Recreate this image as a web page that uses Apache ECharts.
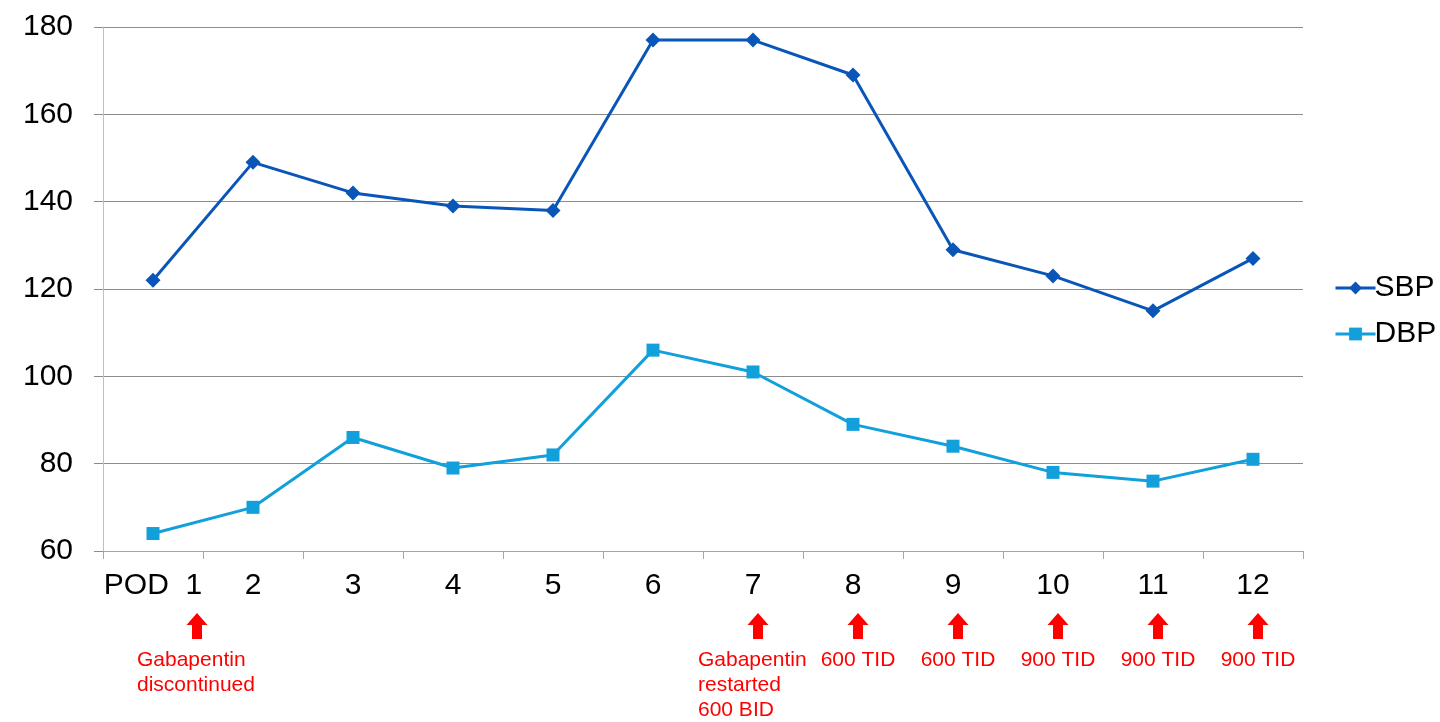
<!DOCTYPE html>
<html>
<head>
<meta charset="utf-8">
<script src="https://cdn.jsdelivr.net/npm/echarts@6/dist/echarts.min.js"></script>
<style>
html,body{margin:0;padding:0;background:#fff;}
#chart{width:1440px;height:722px;}
</style>
</head>
<body>
<div id="chart"></div>
<script>
const categories = ['POD\u00a0\u00a01', '2', '3', '4', '5', '6', '7', '8', '9', '10', '11', '12'];
const sbp = [122, 149, 142, 139, 138, 177, 177, 169, 129, 123, 115, 127];
const dbp = [64, 70, 86, 79, 82, 106, 101, 89, 84, 78, 76, 81];
const yMin = 60, yMax = 180, yStep = 20;
const annotationIndex = [0, 6, 7, 8, 9, 10, 11];
const annotationText = ['Gabapentin\ndiscontinued', 'Gabapentin\nrestarted\n600 BID', '600 TID', '600 TID', '900 TID', '900 TID', '900 TID'];

const FONT = '"Liberation Sans", Arial, sans-serif';
const chart = echarts.init(document.getElementById('chart'), null, {renderer: 'canvas'});
const option = {
  animation: false,
  backgroundColor: '#fff',
  textStyle: {fontFamily: FONT},
  grid: {left: 103, right: 137, top: 27, bottom: 171, containLabel: false},
  legend: {
    orient: 'vertical', left: 1329, top: 268,
    itemWidth: 40, itemHeight: 16, itemGap: 16,
    lineStyle: {width: 3},
    textStyle: {fontSize: 30, color: '#000', fontFamily: FONT, padding: [0, 0, 0, -6]},
    data: ['SBP', 'DBP']
  },
  xAxis: {
    type: 'category', data: categories, boundaryGap: true,
    axisLine: {lineStyle: {color: '#a6a6a6', width: 1}},
    axisTick: {show: true, length: 8, interval: 0, lineStyle: {color: '#a6a6a6'}},
    axisLabel: {fontSize: 30, color: '#000', margin: 20, interval: 0, fontFamily: FONT},
    splitLine: {show: false}
  },
  yAxis: {
    type: 'value', min: yMin, max: yMax, interval: yStep,
    axisLine: {show: true, lineStyle: {color: '#bfbfbf', width: 1}},
    axisTick: {show: true, length: 9, lineStyle: {color: '#8c8c8c'}},
    axisLabel: {fontSize: 30, color: '#000', margin: 30, fontFamily: FONT},
    splitLine: {show: true, lineStyle: {color: '#8c8c8c', width: 1}}
  },
  series: [
    {name: 'SBP', type: 'line', data: sbp, symbol: 'diamond', symbolSize: 15,
     itemStyle: {color: '#0a56b8'}, lineStyle: {color: '#0a56b8', width: 3}},
    {name: 'DBP', type: 'line', data: dbp, symbol: 'rect', symbolSize: 13,
     itemStyle: {color: '#12a0dc'}, lineStyle: {color: '#12a0dc', width: 3}}
  ]
};
chart.setOption(option);

function buildAnnotations() {
  const axisY = chart.convertToPixel({yAxisIndex: 0}, yMin);
  const elements = [];
  annotationIndex.forEach(function (idx, k) {
    const cx = chart.convertToPixel({xAxisIndex: 0}, idx);
    const ax = cx + (idx === 0 ? 44 : 5);
    const top = axisY + 62;
    elements.push({
      type: 'polygon',
      shape: {points: [
        [ax, top], [ax + 10.5, top + 12], [ax + 5, top + 12], [ax + 5, top + 26],
        [ax - 5, top + 26], [ax - 5, top + 12], [ax - 10.5, top + 12]
      ]},
      style: {fill: '#ff0000'}
    });
    const txt = annotationText[k];
    const multi = txt.indexOf('\n') >= 0;
    elements.push({
      type: 'text',
      x: multi ? ax - 60 : ax,
      y: axisY + 97,
      style: {
        text: txt, fill: '#ff0000', font: '21px ' + FONT,
        align: multi ? 'left' : 'center', verticalAlign: 'top', lineHeight: 25
      }
    });
  });
  chart.setOption({graphic: {elements: elements}});
}
buildAnnotations();
</script>
</body>
</html>
